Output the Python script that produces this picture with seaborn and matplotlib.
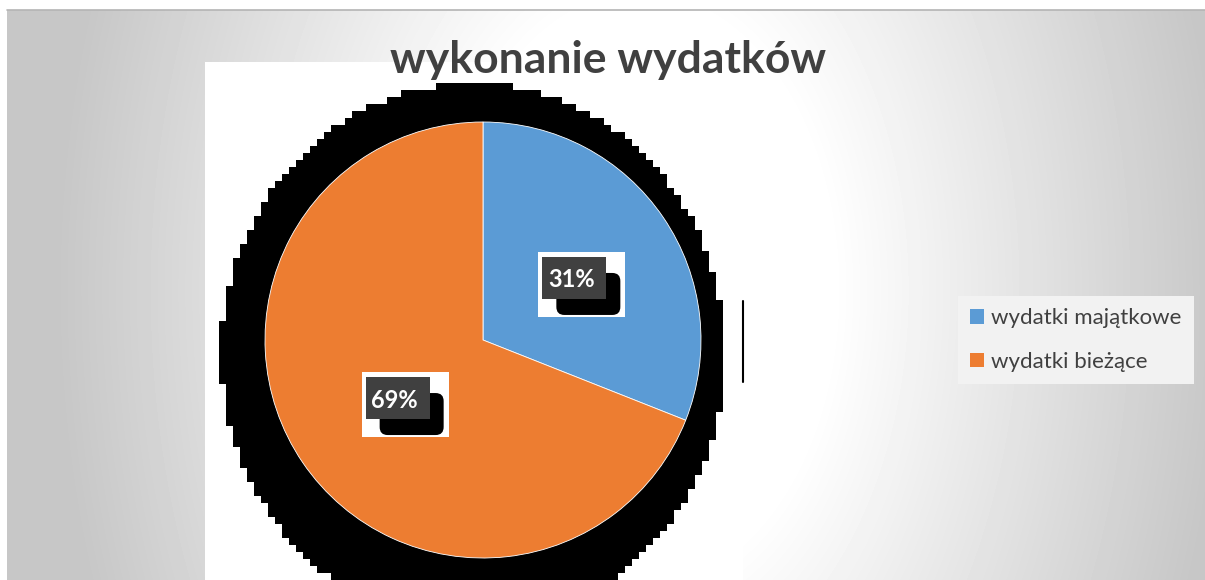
import numpy as np
import matplotlib.pyplot as plt
from matplotlib.patches import Rectangle, FancyBboxPatch, Patch
import seaborn as sns

# chart data
categories = ["wydatki majątkowe", "wydatki bieżące"]
shares = [31, 69]
colors = ["#5B9BD5", "#ED7D31"]
title = "wykonanie wydatków"

sns.set_theme(style="white")
plt.rcParams["font.family"] = ["Lato", "DejaVu Sans"]

W, H = 1205, 580
fig = plt.figure(figsize=(W / 100, H / 100), dpi=100)

# background layer in pixel coordinates
bg = fig.add_axes([0, 0, 1, 1])
bg.axis("off")

xx, yy = np.meshgrid(np.arange(W), np.arange(H))
d = np.sqrt(((xx - 640) / 600.0) ** 2 + ((yy - 290) / 900.0) ** 2)
g = 1 - 0.22 * np.clip((d - 0.32) / 0.65, 0, 1)
bg.imshow(g[10:, 7:], cmap="gray", vmin=0, vmax=1, extent=[7, W, H, 10], aspect="auto", zorder=0)
bg.plot([7, W], [10, 10], color="#b4b4b4", lw=1.2, zorder=1)

# white plot area
bg.add_patch(Rectangle((205, 62), 538, H - 62, facecolor="white", edgecolor="none", zorder=2))

# blocky black shadow behind the pie
blk = 7
bx = np.arange(205, 743, blk) + blk / 2
by = np.arange(62, H, blk) + blk / 2
BX, BY = np.meshgrid(bx, by)
mask = ((BX - 473) / 252.0) ** 2 + ((BY - 354) / 271.0) ** 2 <= 1
rgba = np.zeros(mask.shape + (4,))
rgba[mask, 3] = 1
bg.imshow(rgba, extent=[205, 205 + blk * len(bx), 62 + blk * len(by), 62],
          interpolation="nearest", aspect="auto", zorder=3)
bg.plot([743, 743], [301, 382], color="black", lw=1.5, zorder=3)
bg.set_xlim(0, W)
bg.set_ylim(H, 0)

# title
fig.text(608 / W, 1 - 60 / H, title, ha="center", va="center", fontsize=32,
         fontweight="bold", color="#404040")

# pie
cx, cy, r = 483, 340, 218
ax = fig.add_axes([(cx - r) / W, (H - cy - r) / H, 2 * r / W, 2 * r / H])
wedges, _, autotexts = ax.pie(shares, colors=colors, startangle=90, counterclock=False,
                              autopct="%1.0f%%", pctdistance=0.49,
                              wedgeprops=dict(edgecolor="white", linewidth=0.6))
ax.set_xlim(-1, 1)
ax.set_ylim(-1, 1)
ax.axis("off")

px = 1.0 / r  # one pixel in pie data units
for t in autotexts:
    x, y = t.get_position()
    t.set_fontsize(17)
    t.set_fontweight("bold")
    t.set_color("white")
    t.set_zorder(6)
    bw, bh = 64 * px, 42 * px
    x0, y0 = x - bw / 2 + 3 * px, y - bh / 2 + 2 * px
    # white backing box
    ax.add_patch(Rectangle((x0 - 4 * px, y0 - 18 * px), bw + 23 * px, bh + 23 * px,
                           facecolor="white", edgecolor="none", zorder=3))
    # black drop shadow
    ax.add_patch(FancyBboxPatch((x0 + 14 * px, y0 - 16 * px), bw, bh,
                                boxstyle="round,pad=0,rounding_size=%f" % (8 * px),
                                facecolor="black", edgecolor="none", zorder=4))
    # dark label box
    ax.add_patch(Rectangle((x0, y0), bw, bh, facecolor="#404040", edgecolor="none", zorder=5))

# legend
handles = [Patch(facecolor=c, edgecolor="none") for c in colors]
leg = fig.legend(handles, categories, loc="center left", bbox_to_anchor=(958 / W, 1 - 340 / H),
                 borderaxespad=0, frameon=True, fontsize=16, labelcolor="#404040",
                 handlelength=0.6, handleheight=0.6, handletextpad=0.35, labelspacing=1.05,
                 borderpad=0.55, fancybox=False)
leg.get_frame().set_facecolor("#f2f2f2")
leg.get_frame().set_edgecolor("none")
leg.get_frame().set_alpha(1)

fig.savefig("out.png", dpi=100)
